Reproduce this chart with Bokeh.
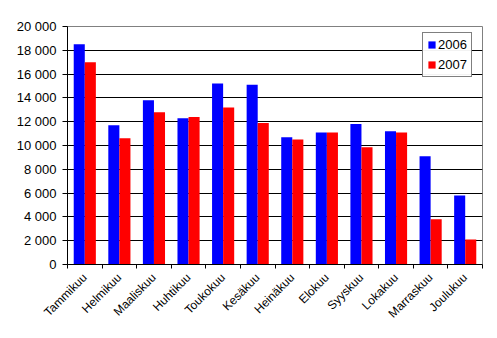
import numpy as np
from bokeh.plotting import figure
from bokeh.models import FixedTicker, Range1d, Legend, LegendItem, ColumnDataSource
from bokeh.embed import file_html
from bokeh.resources import INLINE

months = ["Tammikuu", "Helmikuu", "Maaliskuu", "Huhtikuu", "Toukokuu", "Kesäkuu",
          "Heinäkuu", "Elokuu", "Syyskuu", "Lokakuu", "Marraskuu", "Joulukuu"]
v2006 = [18500, 11700, 13800, 12300, 15200, 15100, 10700, 11100, 11800, 11200, 9100, 5800]
v2007 = [17000, 10600, 12800, 12400, 13200, 11900, 10500, 11100, 9850, 11100, 3800, 2100]
y_ticks = [0, 2000, 4000, 6000, 8000, 10000, 12000, 14000, 16000, 18000, 20000]
y_tick_labels = ["0", "2 000", "4 000", "6 000", "8 000", "10 000", "12 000",
                 "14 000", "16 000", "18 000", "20 000"]

FONT = "Liberation Sans"
n = len(months)
centers = [i + 0.5 for i in range(n)]
bw = 0.32

src = ColumnDataSource(dict(
    x1=[c - bw / 2 for c in centers],
    x2=[c + bw / 2 for c in centers],
    a=v2006, b=v2007,
))

p = figure(width=497, height=338, output_backend="svg", toolbar_location=None,
           x_range=Range1d(0, n), y_range=Range1d(0, 20000),
           min_border_left=67, min_border_right=15, min_border_top=26, min_border_bottom=74)
p.background_fill_color = "white"
p.border_fill_color = "white"
p.outline_line_color = "#808080"
p.outline_line_width = 1

r1 = p.vbar(x="x1", top="a", width=bw, source=src, fill_color="#0000FF", line_color=None)
r2 = p.vbar(x="x2", top="b", width=bw, source=src, fill_color="#FF0000", line_color=None)

# x axis
xa = p.xaxis[0]
xa.ticker = FixedTicker(ticks=centers, minor_ticks=list(range(n + 1)))
xa.major_label_overrides = {c: m for c, m in zip(centers, months)}
xa.major_tick_out = 0
xa.major_tick_in = 0
xa.minor_tick_out = 4
xa.minor_tick_in = 0
xa.minor_tick_line_color = "black"
xa.axis_line_color = "black"
xa.major_label_orientation = np.pi / 4
xa.major_label_text_font = FONT
xa.major_label_text_font_size = "12px"
xa.major_label_text_color = "black"
xa.major_label_standoff = 7

# y axis
ya = p.yaxis[0]
ya.ticker = FixedTicker(ticks=y_ticks, minor_ticks=[])
ya.major_label_overrides = {t: l for t, l in zip(y_ticks, y_tick_labels)}
ya.major_tick_out = 5
ya.major_tick_in = 0
ya.minor_tick_out = 0
ya.minor_tick_in = 0
ya.major_tick_line_color = "black"
ya.axis_line_color = "black"
ya.major_label_text_font = FONT
ya.major_label_text_font_size = "13px"
ya.major_label_text_color = "black"
ya.major_label_standoff = 6

p.xgrid.visible = False
p.ygrid.ticker = FixedTicker(ticks=y_ticks[1:-1])
p.ygrid.grid_line_color = "black"
p.ygrid.grid_line_width = 1

legend = Legend(items=[LegendItem(label="2006", renderers=[r1]),
                       LegendItem(label="2007", renderers=[r2])],
                location=(355, 187))
legend.border_line_color = "black"
legend.border_line_width = 1
legend.background_fill_color = "white"
legend.label_text_font = FONT
legend.label_text_font_size = "13px"
legend.label_text_color = "black"
legend.glyph_width = 9
legend.glyph_height = 9
legend.label_height = 12
legend.label_standoff = 2
legend.spacing = 5
legend.padding = 4
legend.margin = 0
p.add_layout(legend)

open("out.html", "w").write(file_html(p, INLINE))
